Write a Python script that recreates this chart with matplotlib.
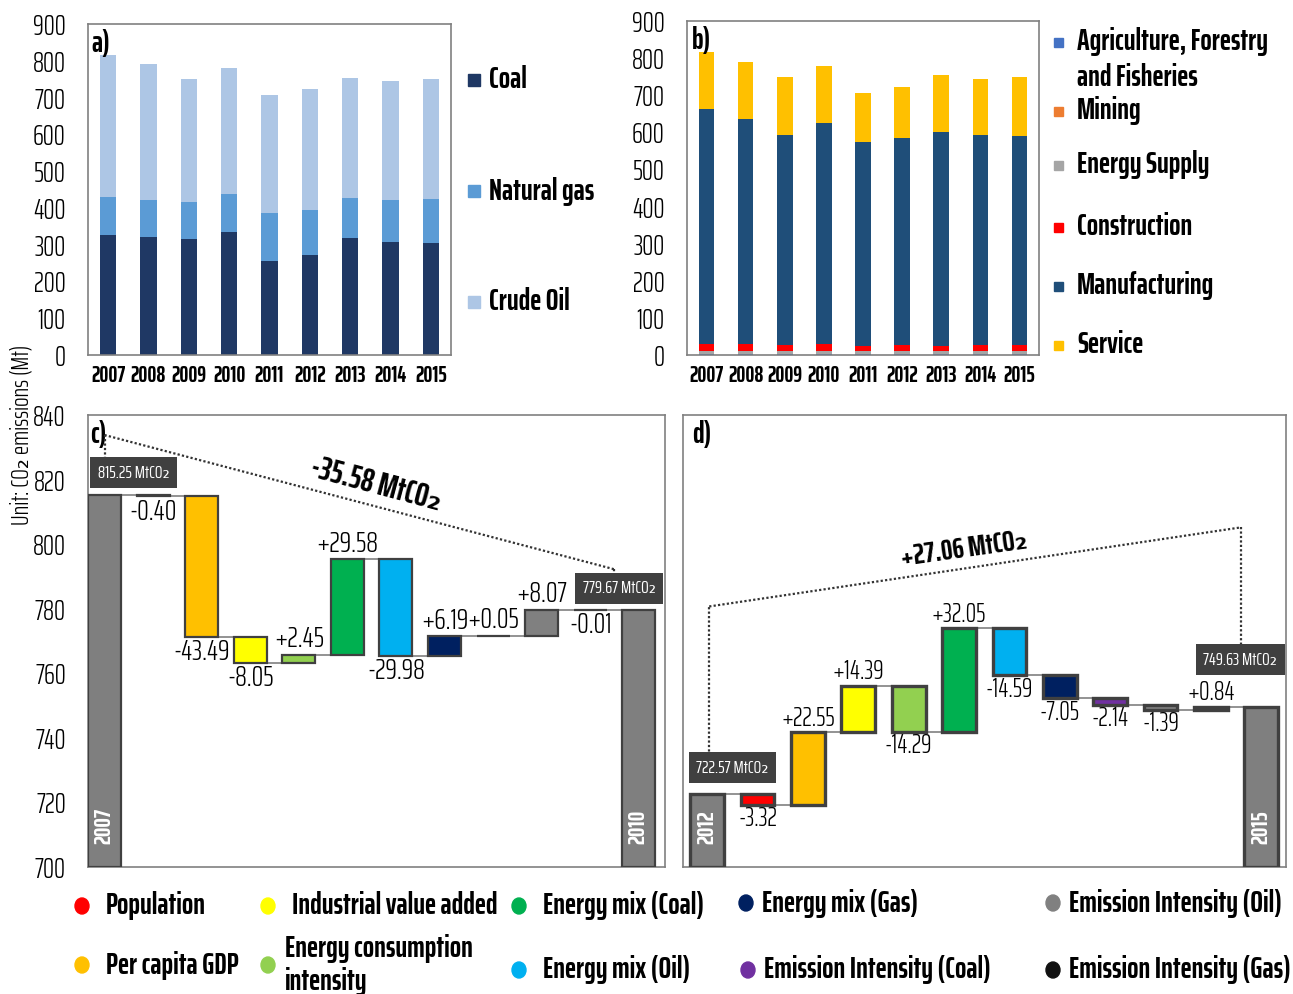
import matplotlib
matplotlib.use("Agg")
import matplotlib.pyplot as plt
from matplotlib import font_manager as fm
from matplotlib.patches import Rectangle, Ellipse

# ---------------- data ----------------
years = ["2007", "2008", "2009", "2010", "2011", "2012", "2013", "2014", "2015"]

# a) emissions by fuel (Mt)
coal = [326, 322, 316, 334, 256, 272, 317, 308, 305]
natural_gas = [104, 100, 99, 105, 131, 122, 109, 114, 118]
crude_oil = [385.25, 368, 335, 340.67, 319, 328.57, 328, 323, 326.63]

# b) emissions by sector (Mt)
agriculture = [1.5, 1.5, 1.5, 1.5, 1.5, 1.5, 1.5, 1.5, 1.5]
mining = [1.0, 1.0, 1.0, 1.0, 1.0, 1.0, 1.0, 1.0, 1.0]
energy_supply = [9, 9, 9, 9, 8, 8, 8, 8, 8]
construction = [19, 18, 15.5, 18, 13.5, 15.5, 14.5, 15.5, 15.5]
manufacturing = [631.5, 606.5, 564.5, 595, 551, 559, 575.5, 568, 564]
service = [153.25, 154, 158.5, 155.17, 131, 137.57, 153.5, 151, 159.63]

# c), d) decomposition of emission change (MtCO2)
factors = ["Population", "Per capita GDP", "Industrial value added",
           "Energy consumption\nintensity", "Energy mix (Coal)", "Energy mix (Oil)",
           "Energy mix (Gas)", "Emission Intensity (Coal)", "Emission Intensity (Oil)",
           "Emission Intensity (Gas)"]
factor_colors = ["#ff0000", "#ffc000", "#ffff00", "#92d050", "#00b050", "#00b0f0",
                 "#002060", "#7030a0", "#808080", "#111111"]
effects_c = [-0.40, -43.49, -8.05, 2.45, 29.58, -29.98, 6.19, 0.05, 8.07, -0.01]
effects_d = [-3.32, 22.55, 14.39, -14.29, 32.05, -14.59, -7.05, -2.14, -1.39, 0.84]
start_c, end_c = 815.25, 779.67
start_d, end_d = 722.57, 749.63
period_c = ("2007", "2010")
period_d = ("2012", "2015")

# ---------------- fonts ----------------
names = {f.name for f in fm.fontManager.ttflist}
NARROW = "DejaVu Sans"
for cand in ["Saira Extra Condensed", "Saira ExtraCondensed", "Saira Condensed",
             "Barlow Condensed", "Archivo Narrow"]:
    if cand in names:
        NARROW = cand
        break
FAM = [NARROW, "DejaVu Sans"]
plt.rcParams["font.family"] = FAM

W, H = 1293, 994
fig = plt.figure(figsize=(W / 100, H / 100), dpi=100)

TICK_FS = 20
BOLD_YEAR_FS = 16
LEG_FS = 21.5
NUM_WEIGHT = 300


def box(l, t, r, b):
    return [l / W, 1 - b / H, (r - l) / W, (b - t) / H]


def style_axes(ax):
    for s in ax.spines.values():
        s.set_color("#808080")
        s.set_linewidth(1.2)


def style_yticks(ax):
    ax.tick_params(axis="y", labelsize=TICK_FS, length=0, pad=16)
    for t in ax.get_yticklabels():
        t.set_fontweight(NUM_WEIGHT)


xs = list(range(len(years)))

# ---------------- a) ----------------
axa = fig.add_axes(box(88, 24, 451, 355))
gas_bottom = coal
oil_bottom = [c + g for c, g in zip(coal, natural_gas)]
axa.bar(xs, coal, width=0.4, color="#1f3864", label="Coal")
axa.bar(xs, natural_gas, width=0.4, bottom=gas_bottom, color="#5b9bd5", label="Natural gas")
axa.bar(xs, crude_oil, width=0.4, bottom=oil_bottom, color="#adc6e5", label="Crude Oil")
axa.set_xlim(-0.5, len(years) - 0.5)
axa.set_ylim(0, 900)
axa.set_yticks(range(0, 901, 100))
axa.set_xticks(xs)
axa.set_xticklabels(years, fontsize=BOLD_YEAR_FS, fontweight="bold")
style_yticks(axa)
axa.tick_params(axis="x", length=0, pad=7)
style_axes(axa)
axa.text(0.01, 0.985, "a)", transform=axa.transAxes, fontsize=LEG_FS, fontweight="bold",
         va="top", ha="left")

# ---------------- b) ----------------
axb = fig.add_axes(box(687, 21, 1039, 355))
b_series = [(agriculture, "#4472c4"), (mining, "#ed7d31"), (energy_supply, "#a5a5a5"),
            (construction, "#ff0000"), (manufacturing, "#1f4e79"), (service, "#ffc000")]
bottom = [0.0] * len(years)
for vals, col in b_series:
    axb.bar(xs, vals, width=0.4, bottom=bottom, color=col)
    bottom = [b + v for b, v in zip(bottom, vals)]
axb.set_xlim(-0.5, len(years) - 0.5)
axb.set_ylim(0, 900)
axb.set_yticks(range(0, 901, 100))
axb.set_xticks(xs)
axb.set_xticklabels(years, fontsize=BOLD_YEAR_FS, fontweight="bold")
style_yticks(axb)
axb.tick_params(axis="x", length=0, pad=7)
style_axes(axb)
axb.text(0.015, 0.985, "b)", transform=axb.transAxes, fontsize=LEG_FS, fontweight="bold",
         va="top", ha="left")


# ---------------- waterfalls ----------------
def waterfall(ax, start, end, effects, period, lw, fs, width):
    base = 700
    edge = "#404040"
    n = len(effects)
    ax.bar(0, start - base, bottom=base, width=width, color="#7f7f7f", edgecolor=edge,
           linewidth=lw, zorder=3)
    level = start
    for i, v in enumerate(effects, 1):
        bot = level if v >= 0 else level + v
        ax.bar(i, abs(v), bottom=bot, width=width, color=factor_colors[i - 1],
               edgecolor=edge, linewidth=lw, zorder=3)
        ax.plot([i - 1 + width / 2, i - width / 2], [level, level], color="#808080",
                lw=1.2, zorder=2)
        txt = f"{v:+.2f}"
        if v >= 0:
            ax.annotate(txt, (i, level + v), xytext=(0, 1), textcoords="offset points",
                        ha="center", va="bottom", fontsize=fs, fontweight=NUM_WEIGHT)
        else:
            ax.annotate(txt, (i, level + v), xytext=(0, -1), textcoords="offset points",
                        ha="center", va="top", fontsize=fs, fontweight=NUM_WEIGHT)
        level += v
    ax.plot([n + width / 2, n + 1 - width / 2], [level, level], color="#808080",
            lw=1.2, zorder=2)
    ax.bar(n + 1, end - base, bottom=base, width=width, color="#7f7f7f", edgecolor=edge,
           linewidth=lw, zorder=3)
    for xpos, lab in ((0, period[0]), (n + 1, period[1])):
        ax.text(xpos, base + 7, lab, rotation=90, color="white", fontweight="bold",
                fontsize=17, ha="center", va="bottom", zorder=4)


def total_box(ax, x, y, value):
    ax.text(x, y, f"{value:.2f} MtCO₂", ha="center", va="center", color="white",
            fontsize=13, zorder=5,
            bbox=dict(boxstyle="square,pad=0.42", fc="#404040", ec="none"))


dot = dict(color="#333333", lw=1.6, ls=(0, (1, 1)), zorder=4, clip_on=False)

# c)
axc = fig.add_axes(box(88, 415, 665, 867))
waterfall(axc, start_c, end_c, effects_c, period_c, lw=1.6, fs=21, width=0.68)
axc.set_xlim(-0.34, 11.54)
axc.set_ylim(700, 840)
axc.set_yticks(range(700, 841, 20))
axc.set_xticks([])
style_yticks(axc)
style_axes(axc)
axc.text(-0.3, 838.5, "c)", fontsize=LEG_FS, fontweight="bold", va="top", ha="left")
axc.plot([0, 0], [826.5, 833.8], **dot)
axc.plot([0, 10.5], [833.8, 792.2], **dot)
axc.plot([10.5, 10.5], [792.2, 790.2], **dot)
total_box(axc, 0.6, 822.1, start_c)
total_box(axc, 10.6, 786.3, end_c)
axc.text(5.6, 818.3, f"{end_c - start_c:+.2f} MtCO₂", rotation=-15, ha="center",
         va="center", fontsize=23, fontweight="bold")

# d)
axd = fig.add_axes(box(683, 415, 1286, 867))
waterfall(axd, start_d, end_d, effects_d, period_d, lw=2.4, fs=19, width=0.67)
axd.set_xlim(-0.48, 11.49)
axd.set_ylim(700, 840)
axd.set_xticks([])
axd.set_yticks([])
style_axes(axd)
axd.text(-0.3, 838.5, "d)", fontsize=LEG_FS, fontweight="bold", va="top", ha="left")
axd.plot([0.04, 0.04], [734.3, 780.7], **dot)
axd.plot([0.04, 10.6], [780.7, 805.2], **dot)
axd.plot([10.6, 10.6], [805.2, 768.3], **dot)
total_box(axd, 0.5, 730.8, start_d)
total_box(axd, 10.58, 764.2, end_d)
axd.text(5.1, 798.3, f"{end_d - start_d:+.2f} MtCO₂", rotation=8, ha="center",
         va="center", fontsize=21, fontweight="bold")

# ---------------- legends & shared label (pixel overlay) ----------------
ov = fig.add_axes([0, 0, 1, 1], zorder=10)
ov.set_xlim(0, W)
ov.set_ylim(H, 0)
ov.axis("off")
ov.patch.set_alpha(0)

# a) legend
for (lab, col), y in zip([("Coal", "#1f3864"), ("Natural gas", "#5b9bd5"),
                          ("Crude Oil", "#adc6e5")], [80, 191, 302]):
    ov.add_patch(Rectangle((468, y - 6), 12, 12, color=col))
    ov.text(489, y, lab, fontsize=LEG_FS, fontweight="bold", va="center", ha="left")

# b) legend
b_labels = ["Agriculture, Forestry\nand Fisheries", "Mining", "Energy Supply",
            "Construction", "Manufacturing", "Service"]
b_cols = [c for _, c in b_series]
for lab, col, y in zip(b_labels, b_cols, [43, 112, 166, 228, 287, 346]):
    ov.add_patch(Rectangle((1054, y - 5), 9, 9, color=col))
    ov.text(1077, y - 16, lab, fontsize=LEG_FS, fontweight="bold", va="top", ha="left",
            linespacing=1.3)

# factor legend
rows = [(82, 906, 0), (268, 906, 2), (519, 906, 4), (746, 903, 6), (1053, 903, 8),
        (82, 965, 1), (268, 965, 3), (519, 970, 5), (748, 970, 7), (1053, 970, 9)]
for x, y, k in rows:
    ov.add_patch(Ellipse((x, y), 14, 16, color=factor_colors[k]))
    tx = x + 24 if x < 700 else x + 16
    if k == 3:
        tx = x + 17
    ov.text(tx, y, factors[k], fontsize=LEG_FS, fontweight="bold", va="center",
            ha="left", linespacing=1.2)

ov.text(22, 435, "Unit: CO₂ emissions (Mt)", rotation=90, fontsize=18, ha="center",
        va="center", fontweight=NUM_WEIGHT)

fig.savefig("out.png", dpi=100)
